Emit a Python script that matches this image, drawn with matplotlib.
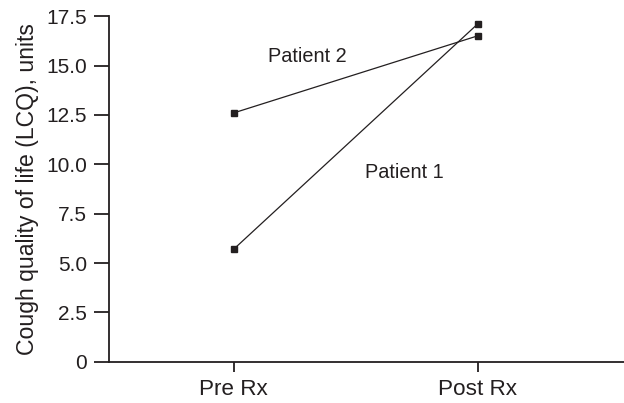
import matplotlib
matplotlib.use("Agg")
import matplotlib.pyplot as plt

plt.rcParams['font.family'] = ['Liberation Sans', 'DejaVu Sans']

categories = ["Pre Rx", "Post Rx"]
patient1 = [5.7, 17.1]
patient2 = [12.6, 16.5]
yticks = [0, 2.5, 5.0, 7.5, 10.0, 12.5, 15.0, 17.5]
ytick_labels = ["0", "2.5", "5.0", "7.5", "10.0", "12.5", "15.0", "17.5"]

ink = "#231f20"

fig = plt.figure(figsize=(6.24, 4.03), dpi=100)
ax = fig.add_axes([0.175, 0.102, 0.825, 0.858])

x = list(range(len(categories)))
for vals in (patient1, patient2):
    ax.plot(x, vals, color=ink, lw=0.9, marker="s", ms=4.5, mfc=ink, mec=ink)

ax.text(0.30, 15.45, "Patient 2", ha="center", va="center", fontsize=14.3, color=ink)
ax.text(0.70, 9.6, "Patient 1", ha="center", va="center", fontsize=14.3, color=ink)

ax.set_xlim(-0.51, 1.6)
ax.set_ylim(0, 17.5)
ax.set_xticks(x)
ax.set_xticklabels(categories)
ax.set_yticks(yticks)
ax.set_yticklabels(ytick_labels)
ax.set_ylabel("Cough quality of life (LCQ), units", fontsize=16.6, color=ink, labelpad=5)

for side in ("top", "right"):
    ax.spines[side].set_visible(False)
for side in ("left", "bottom"):
    ax.spines[side].set_linewidth(1.3)
    ax.spines[side].set_color(ink)
    ax.spines[side].set_clip_on(False)

ax.tick_params(axis="y", length=11, width=1.3, color=ink, labelsize=15, labelcolor=ink, pad=5)
ax.tick_params(axis="x", length=7, width=1.3, color=ink, labelsize=16.2, labelcolor=ink, pad=5)

fig.savefig("out.png", dpi=100)
